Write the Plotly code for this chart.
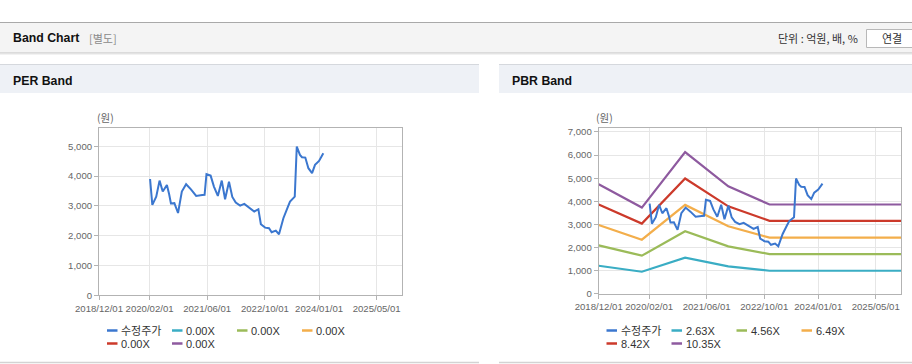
import plotly.graph_objects as go

W, H = 912, 364

# ---------------- data ----------------
price_dates = [
    '2020-02-05', '2020-02-24', '2020-03-28', '2020-04-25', '2020-05-22', '2020-06-26',
    '2020-07-15', '2020-07-30', '2020-08-28', '2020-09-12', '2020-09-28', '2020-10-30',
    '2020-12-05', '2021-01-15', '2021-02-28', '2021-04-20', '2021-05-10', '2021-05-26',
    '2021-06-30', '2021-07-28', '2021-08-30', '2021-10-02', '2021-10-30', '2021-12-02',
    '2021-12-30', '2022-01-28', '2022-03-06', '2022-04-10', '2022-05-22', '2022-07-03',
    '2022-08-07', '2022-08-28', '2022-10-03', '2022-11-05', '2022-11-27', '2023-01-01',
    '2023-01-28', '2023-03-06', '2023-04-12', '2023-05-01', '2023-06-10', '2023-06-16',
    '2023-06-27', '2023-07-24', '2023-08-10', '2023-09-07', '2023-10-03', '2023-11-03',
    '2023-11-28', '2024-01-01', '2024-02-06',
]
price_values = [
    3900, 3030, 3310, 3846, 3480, 3700,
    3390, 3080, 3090, 2940, 2760, 3480,
    3725, 3550, 3330, 3360, 3366, 4061,
    4014, 3645, 3330, 3846, 3220, 3810,
    3300, 3108, 3007, 3064, 2920, 2806,
    2886, 2383, 2269, 2249, 2114, 2168,
    2047, 2584, 2960, 3141, 3309, 3869,
    4987, 4708, 4630, 4618, 4262, 4094,
    4373, 4507, 4765,
]

band_dates = ['2018-12-01', '2019-12-01', '2020-12-01', '2021-12-01', '2022-11-15', '2025-12-01']
band_2_63 = [1205, 947, 1557, 1181, 990, 990]
band_4_56 = [2088, 1642, 2700, 2047, 1712, 1712]
band_6_49 = [2972, 2336, 3842, 2914, 2427, 2427]
band_8_42 = [3856, 3031, 4985, 3781, 3152, 3152]
band_10_35 = [4740, 3726, 6127, 4647, 3860, 3860]

per_labels = ['수정주가', '0.00X', '0.00X', '0.00X', '0.00X', '0.00X']
pbr_labels = ['수정주가', '2.63X', '4.56X', '6.49X', '8.42X', '10.35X']
series_colors = ['#3b77cf', '#3aadc4', '#9bbb59', '#f3ae4b', '#cc3a2b', '#8e5a9f']

x_tick_vals = ['2018-12-01', '2020-02-01', '2021-06-01', '2022-10-01', '2024-01-01', '2025-05-01']
x_tick_text = ['2018/12/01', '2020/02/01', '2021/06/01', '2022/10/01', '2024/01/01', '2025/05/01']
x_range = ['2018-12-01', '2025-12-01']
per_y_ticks = [0, 1000, 2000, 3000, 4000, 5000]
pbr_y_ticks = [0, 1000, 2000, 3000, 4000, 5000, 6000, 7000]

# ---------------- helpers ----------------
def px(x):
    return x / W

def py(y):
    return 1 - y / H

SANS = 'Liberation Sans, Noto Sans CJK KR, sans-serif'
KR = 'Noto Sans CJK KR, Liberation Sans, sans-serif'

fig = go.Figure()

# PER chart: price + (empty) PER bands
fig.add_trace(go.Scatter(x=price_dates, y=price_values, mode='lines', name=per_labels[0],
                         line=dict(color=series_colors[0], width=2), xaxis='x', yaxis='y',
                         showlegend=False))
for lab, col in zip(per_labels[1:], series_colors[1:]):
    fig.add_trace(go.Scatter(x=[], y=[], mode='lines', name=lab, line=dict(color=col, width=2),
                             xaxis='x', yaxis='y', showlegend=False))

# PBR chart: bands then price on top
for lab, col, vals in zip(pbr_labels[1:], series_colors[1:],
                          [band_2_63, band_4_56, band_6_49, band_8_42, band_10_35]):
    fig.add_trace(go.Scatter(x=band_dates, y=vals, mode='lines', name=lab,
                             line=dict(color=col, width=2.2), xaxis='x2', yaxis='y2',
                             showlegend=False))
fig.add_trace(go.Scatter(x=price_dates, y=price_values, mode='lines', name=pbr_labels[0],
                         line=dict(color=series_colors[0], width=2), xaxis='x2', yaxis='y2',
                         showlegend=False))

axis_line = '#b3b3b3'
grid = '#e6e6e6'
tickfont = dict(family=SANS, size=9.6, color='#666666')

def xaxis_cfg(domain, anchor):
    return dict(domain=domain, anchor=anchor, type='date', range=x_range,
                tickmode='array', tickvals=x_tick_vals, ticktext=x_tick_text, tickangle=0,
                showgrid=True, gridcolor=grid, gridwidth=1, automargin=False,
                showline=True, mirror=True, linecolor=axis_line, linewidth=1,
                ticks='outside', ticklen=4, tickcolor=axis_line, tickfont=tickfont,
                zeroline=False, fixedrange=True)

def yaxis_cfg(domain, anchor, rng, ticks):
    return dict(domain=domain, anchor=anchor, range=rng, tickmode='array',
                tickvals=ticks, tickformat=',d', automargin=False,
                showgrid=True, gridcolor=grid, gridwidth=1,
                showline=True, mirror=True, linecolor=axis_line, linewidth=1,
                ticks='outside', ticklen=4, tickcolor=axis_line, tickfont=tickfont,
                zeroline=False, fixedrange=True)

fig.update_layout(
    width=W, height=H, autosize=False,
    margin=dict(l=0, r=0, t=0, b=0, pad=0, autoexpand=False),
    paper_bgcolor='white', plot_bgcolor='white',
    showlegend=False,
    xaxis=xaxis_cfg([px(99), px(402)], 'y'),
    yaxis=yaxis_cfg([py(295.3), py(128.3)], 'x', [0, 5600], per_y_ticks),
    xaxis2=xaxis_cfg([px(598.7), px(901)], 'y2'),
    yaxis2=yaxis_cfg([py(293.6), py(128.3)], 'x2', [0, 7160], pbr_y_ticks),
)

shapes = []
def rect(x0, y0, x1, y1, fill, line_color=None, lw=0):
    shapes.append(dict(type='rect', xref='paper', yref='paper',
                       x0=px(x0), x1=px(x1), y0=py(y1), y1=py(y0),
                       fillcolor=fill, line=dict(color=line_color or fill, width=lw),
                       layer='below'))

def hline(x0, x1, y, color, lw=1):
    shapes.append(dict(type='line', xref='paper', yref='paper',
                       x0=px(x0), x1=px(x1), y0=py(y), y1=py(y),
                       line=dict(color=color, width=lw)))

# top header bar
rect(0, 22.5, 912, 53, '#f4f4f4')
hline(0, 912, 22.5, '#a9a9a9', 1)
hline(0, 912, 53, '#c2c2c2', 1)
hline(0, 912, 54, '#e6e6e6', 1)
# button
shapes.append(dict(type='rect', xref='paper', yref='paper', x0=px(866.5), x1=px(920),
                   y0=py(47.5), y1=py(29.5), fillcolor='white',
                   line=dict(color='#b8b8b8', width=1)))
# panel headers
rect(0, 64, 479, 93, '#eef1f6')
rect(499, 64, 912, 93, '#eef1f6')
hline(0, 479, 64.5, '#d5d8dd', 1)
hline(499, 912, 64.5, '#d5d8dd', 1)
# panel bottoms
hline(0, 479, 362.5, '#d3d3d3', 1.5)
hline(499, 912, 362.5, '#d3d3d3', 1.5)

annotations = []
def text(x, y, s, size, color, family=KR, anchor='left'):
    annotations.append(dict(xref='paper', yref='paper', x=px(x), y=py(y), text=s,
                            showarrow=False, xanchor=anchor, yanchor='middle',
                            font=dict(family=family, size=size, color=color)))

text(11, 38.5, '<b>Band Chart</b>', 12.3, '#111111', SANS)
text(86.5, 38.5, '[별도]', 11, '#8a8a8a')
text(859.5, 38.5, '단위 : 억원, 배, %', 11, '#333333', KR, 'right')
text(891.5, 38.5, '연결', 11, '#333333', KR, 'center')
text(11, 80.5, '<b>PER Band</b>', 12.3, '#111111', SANS)
text(509.5, 80.5, '<b>PBR Band</b>', 12.3, '#111111', SANS)
text(94.5, 117.5, '(원)', 10.5, '#666666')
text(593.5, 117.5, '(원)', 10.5, '#666666')

# legends (built from label / colour lists)
def legend(base_x, labels):
    for i, (lab, col) in enumerate(zip(labels, series_colors)):
        col_i, row_i = i % 4, i // 4
        x0 = base_x + col_i * 65
        yy = 330.5 + row_i * 13
        hline(x0, x0 + 10.5, yy, col, 2.5)
        text(x0 + 12, yy, lab, 11, '#333333', SANS)

legend(107, per_labels)
legend(606.5, pbr_labels)

fig.update_layout(shapes=shapes, annotations=annotations)

fig.write_html('out.html', config={'displayModeBar': False},
               post_script="document.body.style.margin='0';document.body.style.padding='0';")
